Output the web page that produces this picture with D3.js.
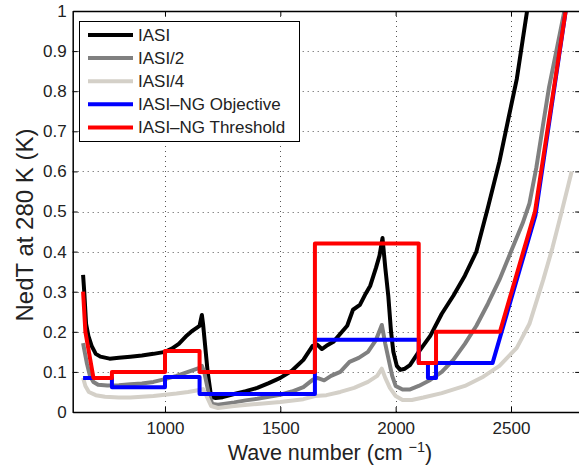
<!DOCTYPE html>
<html>
<head>
<meta charset="utf-8">
<script src="https://cdn.jsdelivr.net/npm/d3@7"></script>
<style>
  html, body { margin: 0; padding: 0; background: #fff; }
  svg { display: block; font-family: "Liberation Sans", Arial, Helvetica, sans-serif; }
</style>
</head>
<body>
<svg id="chart" width="579" height="468"></svg>
<script>
// ---- Data ----
const xTicks = [1000, 1500, 2000, 2500];
const yTicks = [0, 0.1, 0.2, 0.3, 0.4, 0.5, 0.6, 0.7, 0.8, 0.9, 1];
const seriesNames = ["IASI", "IASI/2", "IASI/4", "IASI\u2013NG Objective", "IASI\u2013NG Threshold"];
const seriesColors = ["#000000", "#808080", "#d4d0c8", "#0000ff", "#ff0000"];

const iasiWn  = [645,650,658,668,682,700,720,760,800,850,900,950,1000,1030,1060,1090,1120,1150,1160,1165,1185,1200,1220,1250,1300,1350,1400,1450,1500,1550,1600,1640,1660,1680,1700,1730,1760,1790,1815,1845,1870,1890,1915,1930,1943,1955,1968,1980,1990,2005,2020,2040,2062,2100,2150,2200,2250,2300,2350,2400,2450,2490,2525,2550,2575];
const iasiVal = [0.342,0.30,0.22,0.19,0.165,0.145,0.138,0.133,0.135,0.138,0.141,0.145,0.150,0.158,0.170,0.188,0.203,0.215,0.242,0.22,0.10,0.038,0.035,0.037,0.045,0.052,0.060,0.072,0.085,0.103,0.130,0.165,0.168,0.157,0.165,0.175,0.195,0.215,0.255,0.267,0.295,0.315,0.36,0.39,0.434,0.36,0.29,0.20,0.15,0.115,0.105,0.108,0.117,0.15,0.19,0.245,0.29,0.34,0.40,0.51,0.625,0.735,0.83,0.925,1.02];

const iasi2Wn  = [645,652,662,675,690,710,750,800,850,900,950,1000,1050,1100,1150,1160,1170,1190,1205,1230,1300,1350,1400,1450,1500,1550,1600,1640,1660,1690,1720,1760,1800,1840,1880,1915,1940,1955,1970,1985,2000,2030,2060,2100,2150,2200,2250,2300,2350,2400,2450,2500,2550,2580,2610,2640,2665,2700,2735];
const iasi2Val = [0.172,0.15,0.12,0.09,0.075,0.068,0.066,0.067,0.069,0.071,0.075,0.082,0.09,0.10,0.11,0.115,0.10,0.045,0.02,0.018,0.024,0.029,0.033,0.038,0.043,0.051,0.062,0.08,0.085,0.079,0.09,0.10,0.125,0.135,0.15,0.18,0.217,0.17,0.13,0.09,0.065,0.056,0.056,0.065,0.08,0.10,0.13,0.17,0.215,0.27,0.33,0.40,0.47,0.52,0.61,0.72,0.81,0.91,1.01];

const iasi4Wn  = [645,655,670,700,740,800,850,900,950,1000,1050,1100,1150,1165,1180,1200,1230,1300,1400,1500,1600,1650,1700,1760,1820,1880,1920,1940,1955,1975,2000,2030,2070,2120,2200,2300,2380,2450,2525,2580,2640,2680,2720,2763];
const iasi4Val = [0.085,0.065,0.05,0.042,0.038,0.036,0.036,0.038,0.04,0.043,0.046,0.05,0.055,0.057,0.04,0.015,0.01,0.015,0.02,0.025,0.032,0.04,0.042,0.05,0.06,0.075,0.09,0.108,0.085,0.06,0.04,0.03,0.03,0.036,0.047,0.065,0.088,0.115,0.16,0.22,0.33,0.41,0.50,0.60];

const objWn  = [645,770,770,1000,1000,1150,1150,1650,1650,2100,2100,2140,2140,2175,2175,2420,2606,2745];
const objVal = [0.085,0.085,0.062,0.062,0.087,0.087,0.045,0.045,0.18,0.18,0.122,0.122,0.085,0.085,0.122,0.122,0.49,1.03];

const thrWn  = [645,655,690,770,770,1000,1000,1150,1150,1650,1650,2100,2100,2175,2175,2452,2604,2745];
const thrVal = [0.30,0.20,0.085,0.085,0.10,0.10,0.152,0.152,0.10,0.10,0.42,0.42,0.122,0.122,0.20,0.20,0.50,1.03];

const seriesWn  = [iasiWn, iasi2Wn, iasi4Wn, objWn, thrWn];
const seriesVal = [iasiVal, iasi2Val, iasi4Val, objVal, thrVal];

// ---- Layout ----
const svg = d3.select("#chart");
const pL = 72.7, pR = 580.2, pT = 11, pB = 412;
const x = d3.scaleLinear().domain([600, 2800]).range([pL, pR]);
const y = d3.scaleLinear().domain([0, 1]).range([pB, pT]);
const fontTick = 17;

svg.append("defs").append("clipPath").attr("id", "clip")
  .append("rect").attr("x", pL).attr("y", pT).attr("width", pR - pL).attr("height", pB - pT);

// grid
const grid = svg.append("g").attr("stroke", "#555").attr("stroke-width", 1).attr("stroke-dasharray", "1,4");
grid.selectAll("line.v").data(xTicks).join("line").attr("class", "v")
  .attr("x1", d => Math.round(x(d)) + 0.5).attr("x2", d => Math.round(x(d)) + 0.5)
  .attr("y1", pT).attr("y2", pB);
grid.selectAll("line.h").data(yTicks.slice(1, -1)).join("line").attr("class", "h")
  .attr("y1", d => Math.round(y(d)) + 0.5).attr("y2", d => Math.round(y(d)) + 0.5)
  .attr("x1", pL).attr("x2", pR);

// lines
const line = d3.line().x(d => x(d[0])).y(d => y(d[1]));
const plot = svg.append("g").attr("clip-path", "url(#clip)");
seriesNames.forEach((name, i) => {
  const pts = seriesWn[i].map((w, j) => [w, seriesVal[i][j]]);
  plot.append("path").datum(pts)
    .attr("fill", "none")
    .attr("stroke", seriesColors[i])
    .attr("stroke-width", 4)
    .attr("stroke-linejoin", "round")
    .attr("d", line);
});

// axes
function styleAxis(g) {
  g.select(".domain").attr("stroke", "#000").attr("stroke-width", 1.5);
  g.selectAll(".tick line").attr("stroke", "#000").attr("stroke-width", 1);
  g.selectAll(".tick text").attr("fill", "#222").style("font-size", fontTick + "px")
    .style("font-family", '"Liberation Sans", Arial, Helvetica, sans-serif');
}
const fmtY = d => (d === 0 ? "0" : d === 1 ? "1" : d3.format(".1f")(d));

svg.append("g").attr("transform", `translate(0,${pB})`)
  .call(d3.axisBottom(x).tickValues(xTicks).tickFormat(d3.format("d")).tickSizeInner(-5).tickSizeOuter(0).tickPadding(10))
  .call(styleAxis);
svg.append("g").attr("transform", `translate(0,${pT})`)
  .call(d3.axisTop(x).tickValues(xTicks).tickSizeInner(-5).tickSizeOuter(0).tickFormat(""))
  .call(styleAxis);
svg.append("g").attr("transform", `translate(${pL},0)`)
  .call(d3.axisLeft(y).tickValues(yTicks).tickFormat(fmtY).tickSizeInner(-5).tickSizeOuter(0).tickPadding(6))
  .call(styleAxis);
svg.append("g").attr("transform", `translate(${pR},0)`)
  .call(d3.axisRight(y).tickValues(yTicks).tickSizeInner(-5).tickSizeOuter(0).tickFormat(""))
  .call(styleAxis);

// axis labels
const xl = svg.append("text")
  .attr("x", 330).attr("y", 460)
  .attr("text-anchor", "middle")
  .attr("fill", "#222")
  .style("font-size", "21.5px");
xl.append("tspan").text("Wave number (cm ");
xl.append("tspan").attr("dy", -8).style("font-size", "14.5px").text("\u22121");
xl.append("tspan").attr("dy", 8).text(")");

svg.append("text")
  .attr("transform", `translate(33,225) rotate(-90)`)
  .attr("text-anchor", "middle")
  .attr("fill", "#222")
  .style("font-size", "24px")
  .text("NedT at 280 K (K)");

// legend
const lg = svg.append("g");
lg.append("rect").attr("x", 79.5).attr("y", 21.5).attr("width", 220).attr("height", 120)
  .attr("fill", "#fff").attr("stroke", "#000").attr("stroke-width", 1);
seriesNames.forEach((name, i) => {
  const ly = 35 + i * 23.1;
  lg.append("line").attr("x1", 88).attr("x2", 133).attr("y1", ly).attr("y2", ly)
    .attr("stroke", seriesColors[i]).attr("stroke-width", 4);
  lg.append("text").attr("x", 138).attr("y", ly + 6)
    .attr("fill", "#222").style("font-size", fontTick + "px").text(name);
});
</script>
</body>
</html>
